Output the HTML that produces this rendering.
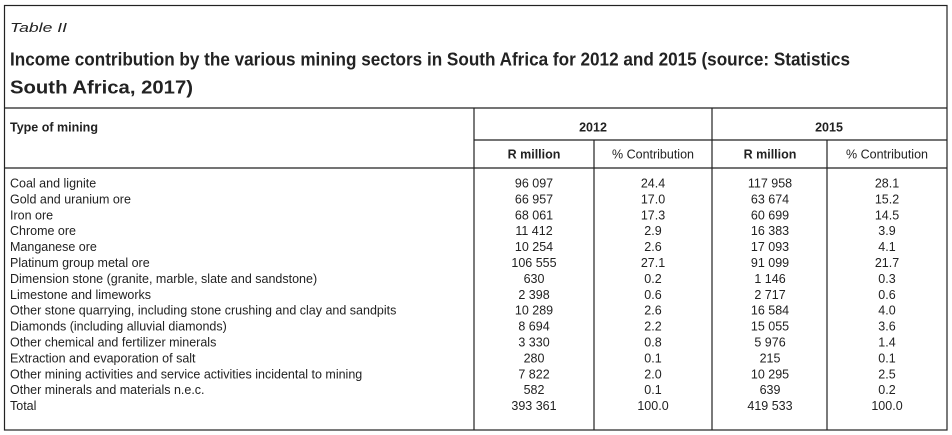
<!DOCTYPE html>
<html><head><meta charset="utf-8">
<style>
html,body{margin:0;padding:0;background:#fff;}
svg{display:block;font-family:"Liberation Sans",Arial,sans-serif;}
</style></head>
<body>
<svg id="tbl" width="952" height="435" viewBox="0 0 952 435" xmlns="http://www.w3.org/2000/svg">
  <rect x="4.5" y="5.5" width="942.5" height="424.5" fill="none" stroke="#222" stroke-width="1.2"/>
  <text x="10" y="32" font-size="13" font-style="italic" fill="#222" textLength="57" lengthAdjust="spacingAndGlyphs">Table II</text>
  <text x="10" y="65.5" font-size="18" font-weight="bold" fill="#222" textLength="840" lengthAdjust="spacingAndGlyphs">Income contribution by the various mining sectors in South Africa for 2012 and 2015 (source: Statistics</text>
  <text x="10" y="93.5" font-size="18" font-weight="bold" fill="#222" textLength="183" lengthAdjust="spacingAndGlyphs">South Africa, 2017)</text>
  <g stroke="#222" stroke-width="1.2">
    <line x1="4.5" y1="108" x2="947" y2="108"/>
    <line x1="474" y1="140" x2="947" y2="140"/>
    <line x1="4.5" y1="168" x2="947" y2="168"/>
    <line x1="474" y1="108" x2="474" y2="430"/>
    <line x1="712" y1="108" x2="712" y2="430"/>
    <line x1="594" y1="140" x2="594" y2="430"/>
    <line x1="827" y1="140" x2="827" y2="430"/>
  </g>
  <text x="10" y="131.5" font-size="12.5" font-weight="bold" fill="#222">Type of mining</text>
  <text x="593" y="131.5" font-size="12.5" font-weight="bold" fill="#222" text-anchor="middle">2012</text>
  <text x="829" y="131.5" font-size="12.5" font-weight="bold" fill="#222" text-anchor="middle">2015</text>
  <text x="534" y="158.5" font-size="12.5" font-weight="bold" fill="#222" text-anchor="middle">R million</text>
  <text x="653" y="158.5" font-size="12.5" fill="#222" text-anchor="middle">% Contribution</text>
  <text x="770" y="158.5" font-size="12.5" font-weight="bold" fill="#222" text-anchor="middle">R million</text>
  <text x="887" y="158.5" font-size="12.5" fill="#222" text-anchor="middle">% Contribution</text>
  <g id="rows"></g>
</svg>
<script>
const categories = ["Coal and lignite","Gold and uranium ore","Iron ore","Chrome ore","Manganese ore","Platinum group metal ore","Dimension stone (granite, marble, slate and sandstone)","Limestone and limeworks","Other stone quarrying, including stone crushing and clay and sandpits","Diamonds (including alluvial diamonds)","Other chemical and fertilizer minerals","Extraction and evaporation of salt","Other mining activities and service activities incidental to mining","Other minerals and materials n.e.c.","Total"];
const rmillion2012 = ["96 097","66 957","68 061","11 412","10 254","106 555","630","2 398","10 289","8 694","3 330","280","7 822","582","393 361"];
const pct2012 = ["24.4","17.0","17.3","2.9","2.6","27.1","0.2","0.6","2.6","2.2","0.8","0.1","2.0","0.1","100.0"];
const rmillion2015 = ["117 958","63 674","60 699","16 383","17 093","91 099","1 146","2 717","16 584","15 055","5 976","215","10 295","639","419 533"];
const pct2015 = ["28.1","15.2","14.5","3.9","4.1","21.7","0.3","0.6","4.0","3.6","1.4","0.1","2.5","0.2","100.0"];

const NS = "http://www.w3.org/2000/svg";
const g = document.getElementById('rows');
const rowY = i => 187.5 + i * 15.9;
function addText(txt, x, y, anchor, name) {
  const t = document.createElementNS(NS, 'text');
  t.setAttribute('x', x);
  t.setAttribute('y', y);
  t.setAttribute('font-size', '12.5');
  t.setAttribute('fill', '#222');
  if (anchor) t.setAttribute('text-anchor', anchor);
  
  
  t.textContent = txt;
  g.appendChild(t);
}
categories.forEach((c, i) => {
  const y = rowY(i);
  addText(c, 10, y, null, 'row-label');
  addText(rmillion2012[i], 534, y, 'middle', 'rmillion-2012-cell');
  addText(pct2012[i], 653, y, 'middle', 'pct-2012-cell');
  addText(rmillion2015[i], 770, y, 'middle', 'rmillion-2015-cell');
  addText(pct2015[i], 887, y, 'middle', 'pct-2015-cell');
});
</script>
</body></html>
